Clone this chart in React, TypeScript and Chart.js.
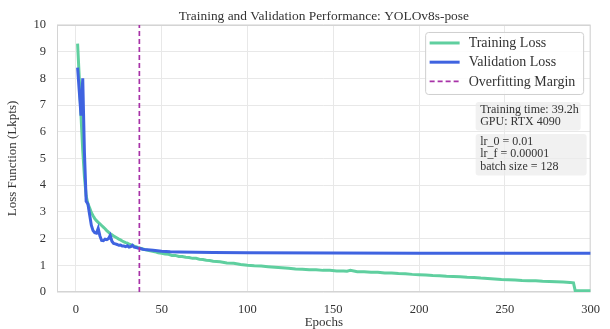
import React, { useEffect, useRef } from "react";
import { Chart, registerables } from "chart.js";

Chart.register(...registerables);

const TITLE = "Training and Validation Performance: YOLOv8s-pose";
const X_LABEL = "Epochs";
const Y_LABEL = "Loss Function (Lkpts)";

const trainEpochs = [
  1, 2, 3, 4, 5, 6, 7, 8, 9, 10, 11, 12, 13, 14, 15, 16, 17, 18, 19, 20,
  21, 22, 23, 24, 25, 26, 27, 28, 29, 30, 31, 32, 33, 34, 35, 36, 37, 38, 39, 40,
  42, 44, 46, 48, 50, 52, 54, 56, 58, 60, 62, 64, 66, 68, 70, 72, 74, 76, 78, 80,
  84, 88, 92, 96, 100, 104, 108, 112, 116, 120, 124, 128, 132, 136, 140, 144, 148,
  152, 156, 158, 160, 164, 168, 172, 176, 180, 184, 188, 192, 196, 200, 204, 208,
  212, 216, 220, 224, 228, 232, 236, 240, 244, 248, 252, 256, 260, 264, 268, 272,
  276, 280, 284, 288, 290, 291, 295, 300,
];
const trainLoss = [
  9.3, 8.0, 6.6, 5.3, 4.3, 3.6, 3.3, 3.15, 2.98, 2.86, 2.75, 2.67, 2.61, 2.55, 2.49, 2.43, 2.37, 2.3, 2.24, 2.18,
  2.14, 2.1, 2.06, 2.02, 1.98, 1.95, 1.91, 1.88, 1.85, 1.83, 1.79, 1.77, 1.74, 1.72, 1.7, 1.67, 1.65, 1.63, 1.61, 1.59,
  1.56, 1.53, 1.51, 1.47, 1.45, 1.42, 1.41, 1.37, 1.37, 1.33, 1.33, 1.3, 1.29, 1.26, 1.26, 1.23, 1.22, 1.19, 1.18, 1.15,
  1.13, 1.09, 1.08, 1.03, 1.0, 0.98, 0.97, 0.95, 0.93, 0.91, 0.89, 0.86, 0.85, 0.83, 0.83, 0.81, 0.81,
  0.79, 0.79, 0.78, 0.81, 0.76, 0.76, 0.74, 0.74, 0.71, 0.71, 0.69, 0.68, 0.66, 0.65, 0.64, 0.62,
  0.61, 0.59, 0.58, 0.57, 0.55, 0.54, 0.52, 0.51, 0.49, 0.47, 0.46, 0.45, 0.43, 0.42, 0.42, 0.4,
  0.39, 0.38, 0.37, 0.36, 0.34, 0.05, 0.05, 0.05,
];

const valEpochs = [
  1, 2, 3, 4, 5, 6, 7, 8, 9, 10, 11, 12, 13, 14, 15, 16, 17, 18, 19, 20,
  21, 22, 23, 24, 25, 26, 27, 28, 29, 30, 31, 32, 33, 34, 35, 36, 37, 38, 39, 40,
  45, 50, 55, 60, 70, 80, 100, 150, 200, 250, 300,
];
const valLoss = [
  8.4, 7.5, 6.6, 8.0, 5.2, 3.4, 3.3, 2.9, 2.5, 2.3, 2.22, 2.2, 2.38, 2.1, 1.93, 1.92, 1.98, 1.96, 2.0, 2.12,
  1.9, 1.82, 1.8, 1.78, 1.75, 1.76, 1.72, 1.72, 1.7, 1.73, 1.68, 1.7, 1.75, 1.68, 1.67, 1.65, 1.64, 1.62, 1.6, 1.59,
  1.56, 1.53, 1.51, 1.5, 1.49, 1.48, 1.47, 1.46, 1.45, 1.45, 1.45,
];

const overfitEpoch = 37;
const infoBox1 = ["Training time: 39.2h", "GPU: RTX 4090"];
const infoBox2 = ["lr_0 = 0.01", "lr_f = 0.00001", "batch size = 128"];

const SERIF = "'Liberation Serif', 'Times New Roman', serif";
const TEXT = "#333333";

function roundRect(ctx: CanvasRenderingContext2D, x: number, y: number, w: number, h: number, r: number) {
  ctx.beginPath();
  ctx.moveTo(x + r, y);
  ctx.lineTo(x + w - r, y);
  ctx.quadraticCurveTo(x + w, y, x + w, y + r);
  ctx.lineTo(x + w, y + h - r);
  ctx.quadraticCurveTo(x + w, y + h, x + w - r, y + h);
  ctx.lineTo(x + r, y + h);
  ctx.quadraticCurveTo(x, y + h, x, y + h - r);
  ctx.lineTo(x, y + r);
  ctx.quadraticCurveTo(x, y, x + r, y);
  ctx.closePath();
}

const overlayPlugin = {
  id: "overlay",
  beforeDatasetsDraw(chart: any) {
    const { ctx, chartArea } = chart;
    ctx.save();
    ctx.strokeStyle = "#d4d4d4";
    ctx.lineWidth = 1;
    ctx.strokeRect(chartArea.left + 0.5, chartArea.top + 0.5, chartArea.right - chartArea.left - 1, chartArea.bottom - chartArea.top - 1);
    ctx.restore();
  },
  afterDraw(chart: any) {
    const { ctx, chartArea } = chart;
    const right = chartArea.right;
    const top = chartArea.top;
    ctx.save();
    // legend
    const lx = right - 165;
    const ly = top + 7.5;
    const lw = 158;
    const lh = 62;
    roundRect(ctx, lx, ly, lw, lh, 3);
    ctx.fillStyle = "rgba(255,255,255,0.85)";
    ctx.fill();
    ctx.strokeStyle = "#cfcfcf";
    ctx.lineWidth = 1;
    ctx.stroke();
    ctx.font = `14px ${SERIF}`;
    ctx.textBaseline = "middle";
    ctx.textAlign = "left";
    chart.data.datasets.forEach((ds: any, i: number) => {
      const y = ly + 10.5 + i * 19.2;
      ctx.beginPath();
      ctx.strokeStyle = ds.borderColor;
      ctx.lineWidth = ds.borderWidth;
      ctx.setLineDash(ds.borderDash || []);
      ctx.moveTo(lx + 4, y);
      ctx.lineTo(lx + 34, y);
      ctx.stroke();
      ctx.setLineDash([]);
      ctx.fillStyle = TEXT;
      ctx.fillText(ds.label, lx + 43, y + 0.5);
    });
    // info boxes
    ctx.font = `12px ${SERIF}`;
    const drawBox = (lines: string[], bx: number, by: number, bw: number, lineH: number) => {
      const bh = lines.length * lineH + 5;
      roundRect(ctx, bx, by, bw, bh, 3);
      ctx.fillStyle = "rgba(236,236,236,0.75)";
      ctx.fill();
      ctx.fillStyle = TEXT;
      lines.forEach((t, i) => ctx.fillText(t, bx + 4.5, by + 8 + i * lineH));
    };
    drawBox(infoBox1, right - 115, top + 77, 105, 11.8);
    drawBox(infoBox2, right - 115, top + 109, 111, 12.2);
    ctx.restore();
  },
};

export default function App() {
  const ref = useRef<HTMLCanvasElement | null>(null);
  useEffect(() => {
    if (!ref.current) return;
    const chart = new Chart(ref.current, {
      type: "line",
      data: {
        datasets: [
          {
            label: "Training Loss",
            data: trainEpochs.map((x, i) => ({ x, y: trainLoss[i] })),
            borderColor: "#5fcf9f",
            backgroundColor: "#5fcf9f",
            borderWidth: 3,
            pointRadius: 0,
            tension: 0,
            order: 3,
          },
          {
            label: "Validation Loss",
            data: valEpochs.map((x, i) => ({ x, y: valLoss[i] })),
            borderColor: "#3f63e0",
            backgroundColor: "#3f63e0",
            borderWidth: 3,
            pointRadius: 0,
            tension: 0,
            order: 2,
          },
          {
            label: "Overfitting Margin",
            data: [
              { x: overfitEpoch, y: 0 },
              { x: overfitEpoch, y: 10 },
            ],
            borderColor: "#a833a8",
            backgroundColor: "#a833a8",
            borderWidth: 1.7,
            borderDash: [5, 3],
            pointRadius: 0,
            order: 1,
          },
        ],
      },
      options: {
        responsive: false,
        animation: false,
        devicePixelRatio: 1,
        layout: { padding: { left: 0, right: 16, top: 0, bottom: 0 } },
        plugins: {
          legend: { display: false },
          tooltip: { enabled: false },
          title: {
            display: true,
            text: TITLE,
            fullSize: false,
            color: TEXT,
            font: { family: SERIF, size: 13.4, weight: "normal", lineHeight: 1.2 },
            padding: { top: 8, bottom: 0.9 },
          },
        },
        scales: {
          x: {
            type: "linear",
            min: -11,
            max: 300,
            afterFit: (s: any) => {
              s.height = 37;
            },
            ticks: {
              stepSize: 50,
              includeBounds: false,
              color: TEXT,
              padding: 10,
              maxRotation: 0,
              font: { family: SERIF, size: 12.5 },
            },
            grid: { color: "#e8e8e8", drawTicks: false },
            border: { display: false },
            title: {
              display: true,
              text: X_LABEL,
              color: TEXT,
              font: { family: SERIF, size: 13, lineHeight: 1.0 },
              padding: { top: 0, bottom: 0 },
            },
          },
          y: {
            type: "linear",
            min: 0,
            max: 10,
            afterFit: (s: any) => {
              s.width = 57;
            },
            ticks: {
              stepSize: 1,
              color: TEXT,
              padding: 11,
              font: { family: SERIF, size: 12.5 },
            },
            grid: { color: "#e8e8e8", drawTicks: false },
            border: { display: false },
            title: {
              display: true,
              text: Y_LABEL,
              color: TEXT,
              font: { family: SERIF, size: 13, lineHeight: 1.2 },
              padding: { top: 5, bottom: 0 },
            },
          },
        },
      },
      plugins: [overlayPlugin],
    });
    return () => chart.destroy();
  }, []);
  return (
    <div style={{ position: "absolute", left: 0, top: 0, width: 610, height: 329, background: "#fff" }}>
      <canvas ref={ref} width={610} height={329} style={{ display: "block", width: 610, height: 329 }} />
    </div>
  );
}
